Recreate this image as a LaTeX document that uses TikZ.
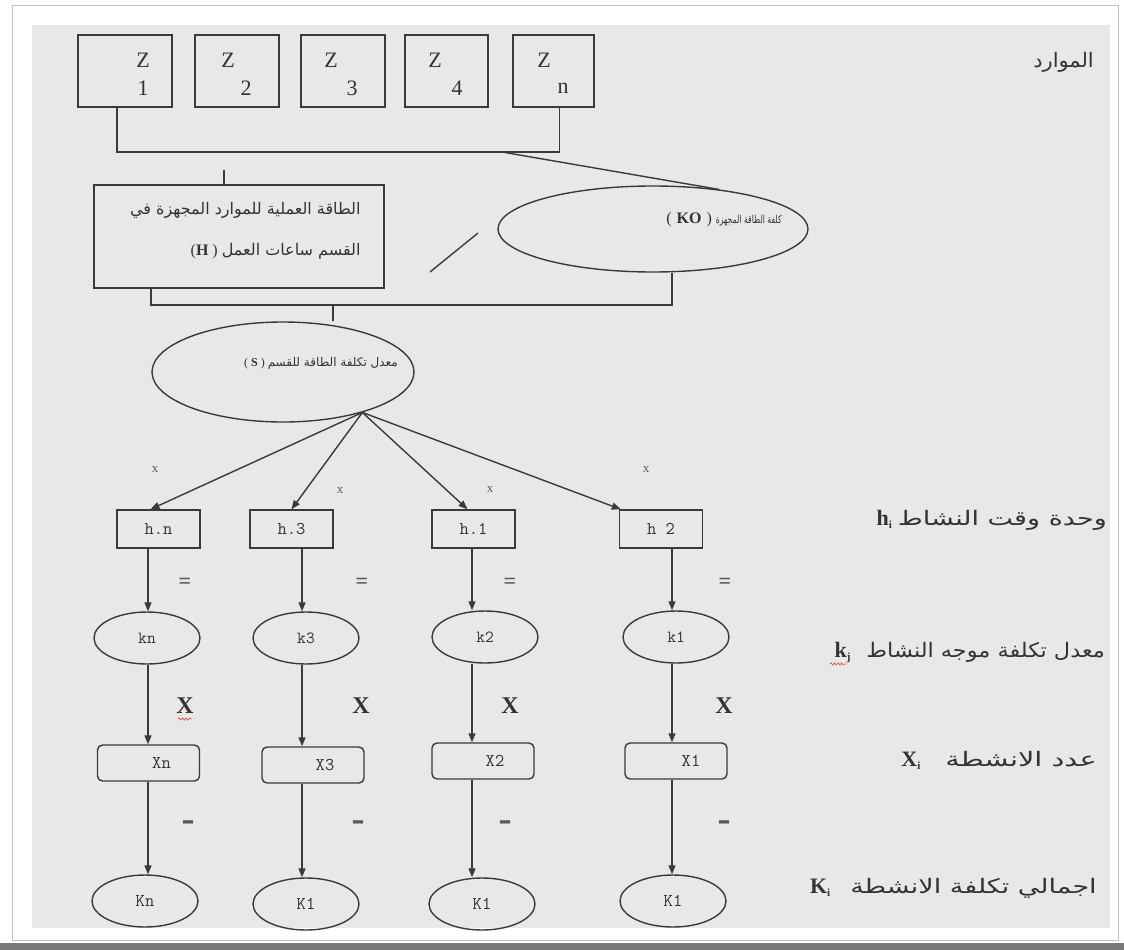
\documentclass[tikz,border=0pt]{standalone}
\usepackage{fontspec}
\usepackage{graphicx}
\setmainfont{Liberation Serif}
\newfontfamily\arabicfont[Script=Arabic]{DejaVu Sans}
\newfontfamily\barfont{DejaVu Sans}
\TeXXeTstate=1
\usetikzlibrary{arrows.meta,shapes.geometric,decorations.pathmorphing,calc}

\definecolor{panel}{HTML}{E8E8E8}
\definecolor{ink}{HTML}{3A3A3A}
\definecolor{txt}{HTML}{333333}
\definecolor{soft}{HTML}{5A5A5A}
\definecolor{frameline}{HTML}{BDBDBD}
\definecolor{shadow}{HTML}{7A7A7A}

% bold symbol with a lowered index
\newcommand{\sym}[2]{\textbf{#1}\raisebox{-3pt}{\fontsize{11}{11}\selectfont\bfseries #2}}

\tikzset{
  line/.style={draw=ink, line width=1.4pt},
  arr/.style={line, -{Triangle[length=9pt,width=7pt]}},
  zbox/.style={line, rectangle, inner sep=0pt, minimum height=72pt},
  ztxt/.style={font=\fontsize{22}{22}\selectfont, text=txt, inner sep=0pt},
  hbox/.style={line, rectangle, minimum width=83pt, minimum height=38pt, inner sep=0pt,
    font=\ttfamily\fontsize{18}{18}\selectfont, text=txt},
  kell/.style={line, ellipse, minimum width=106pt, minimum height=52pt, inner sep=0pt,
    font=\ttfamily\fontsize{17}{17}\selectfont, text=txt},
  xbox/.style={line, rectangle, rounded corners=5pt, minimum width=102pt, minimum height=36pt,
    inner sep=0pt, font=\ttfamily\fontsize{18}{18}\selectfont, text=txt},
  bigell/.style={line, ellipse, inner sep=0pt},
  intext/.style={inner sep=0pt, text=txt, font=\fontsize{12}{12}\selectfont},
  opx/.style={font=\fontsize{13}{13}\selectfont, text=soft, inner sep=0pt},
  opeq/.style={font=\bfseries\fontsize{22}{22}\selectfont, text=soft, inner sep=0pt},
  opX/.style={font=\bfseries\fontsize{24}{24}\selectfont, text=txt, inner sep=0pt},
  opminus/.style={font=\barfont\bfseries\fontsize{26}{26}\selectfont, text=soft, inner sep=0pt},
  rowlabel/.style={anchor=east, inner sep=0pt, text=txt, font=\fontsize{20}{20}\selectfont},
  squiggle/.style={draw=red!75, line width=0.6pt, decorate,
    decoration={snake, amplitude=1.2pt, segment length=3.5pt}},
}

\begin{document}
\begin{tikzpicture}[x=1pt, y=-1pt]
  % page and panel
  \useasboundingbox (0,0) rectangle (1124,950);
  \fill[white] (0,0) rectangle (1124,950);
  \draw[frameline, line width=1pt] (12,6) rectangle (1118,940);
  \fill[panel] (32,25) rectangle (1110,928);
  \fill[shadow] (0,943) rectangle (1124,950);

  % resources Z
  \node[zbox, minimum width=94pt,
    label={[ztxt, xshift=18pt, yshift=11pt]center:Z},
    label={[ztxt, xshift=18pt, yshift=-17pt]center:1}] (z1) at (125,71) {};
  \node[zbox, minimum width=84pt,
    label={[ztxt, xshift=-9pt, yshift=11pt]center:Z},
    label={[ztxt, xshift=9pt, yshift=-17pt]center:2}] (z2) at (237,71) {};
  \node[zbox, minimum width=84pt,
    label={[ztxt, xshift=-12pt, yshift=11pt]center:Z},
    label={[ztxt, xshift=9pt, yshift=-17pt]center:3}] (z3) at (343,71) {};
  \node[zbox, minimum width=83pt,
    label={[ztxt, xshift=-11.5pt, yshift=11pt]center:Z},
    label={[ztxt, xshift=10.5pt, yshift=-17pt]center:4}] (z4) at (446.5,71) {};
  \node[zbox, minimum width=81pt,
    label={[ztxt, xshift=-9.5pt, yshift=11pt]center:Z},
    label={[ztxt, xshift=9.5pt, yshift=-17pt]center:n}] (zn) at (553.5,71) {};

  % capacity box and cost ellipse
  \node[line, rectangle, minimum width=290pt, minimum height=103pt, inner sep=0pt,
    label={[intext, font=\fontsize{16}{16}\selectfont, anchor=east, align=right, xshift=-24pt, yshift=6pt]east:{%
      {\arabicfont\beginR الطاقة العملية للموارد المجهزة في\endR}\\[24pt]
      (\textbf{H} ) {\arabicfont\beginR القسم ساعات العمل\endR}}}] (H) at (239,236.5) {};
  \node[bigell, minimum width=310pt, minimum height=86pt,
    label={[intext, xshift=71pt, yshift=9pt]center:{{\fontsize{16}{16}\selectfont(\hspace{5pt}\textbf{KO}\hspace{5pt})}\hspace{4pt}%
      {\fontsize{11}{11}\selectfont\scalebox{0.7}[1]{\arabicfont\beginR كلفة الطاقة المجهزة\endR}}}}]
    (KO) at (653,229) {};
  \draw[line] (430,272) -- (478,233);

  % rate ellipse
  \node[bigell, minimum width=262pt, minimum height=100pt,
    label={[intext, xshift=38pt, yshift=9pt]center:{( \textbf{S} ) {\arabicfont\beginR معدل تكلفة الطاقة للقسم\endR}}}]
    (S) at (283,372) {};

  % joins
  \coordinate (zfork) at (502,152);
  \coordinate (htick) at (224,170);
  \coordinate (sfork) at (333,305);
  \coordinate (apex) at (S.-27);
  \draw[line] ([xshift=-8pt]z1.south) |- (zfork) -| ([xshift=6pt]zn.south);
  \draw[line] (zfork) -- (KO.31);
  \draw[line] (htick) -- (H.north -| htick);
  \draw[line] ([xshift=-88pt]H.south) |- (sfork) -| ([xshift=19pt]KO.south);
  \draw[line] (sfork) -- (S.north -| sfork);

  % columns
  \coordinate (c1) at (148,0);
  \coordinate (c2) at (302,0);
  \coordinate (c3) at (472,0);
  \coordinate (c4) at (672,0);

  % activity time units
  \node[hbox] (hn) at (158.5,529) {h.n};
  \node[hbox] (h3) at (291.5,529) {h.3};
  \node[hbox] (h1) at (473.5,529) {h.1};
  \node[hbox] (h2) at (661,529) {h 2};
  \draw[arr] (apex) -- ([xshift=-8pt]hn.north);
  \draw[arr] (apex) -- (h3.north);
  \draw[arr] (apex) -- ([xshift=-6pt]h1.north);
  \draw[arr] (apex) -- ([xshift=2pt]h2.north west);

  % driver rates
  \node[kell] (kn) at (147,638) {kn};
  \node[kell] (k3) at (306,638) {k3};
  \node[kell] (k2) at (485,637) {k2};
  \node[kell] (k1) at (676,637) {k1};

  % activity counts
  \node[xbox] (xn) at (148.5,763) {\hspace*{26pt}Xn};
  \node[xbox] (x3) at (313,765) {\hspace*{24pt}X3};
  \node[xbox] (x2) at (483,761) {\hspace*{24pt}X2};
  \node[xbox] (x1) at (676,761) {\hspace*{30pt}X1};

  % total costs
  \node[kell, font=\ttfamily\fontsize{18}{18}\selectfont] (Kn) at (145,901) {Kn};
  \node[kell, font=\ttfamily\fontsize{18}{18}\selectfont] (Ka) at (306,904) {K1};
  \node[kell, font=\ttfamily\fontsize{18}{18}\selectfont] (Kb) at (482,904) {K1};
  \node[kell, font=\ttfamily\fontsize{18}{18}\selectfont] (Kc) at (673,901) {K1};

  % vertical flows
  \draw[arr] (hn.south -| c1) -- (kn.north -| c1);
  \draw[arr] (h3.south -| c2) -- (k3.north -| c2);
  \draw[arr] (h1.south -| c3) -- (k2.north -| c3);
  \draw[arr] (h2.south -| c4) -- (k1.north -| c4);
  \draw[arr] (kn.south -| c1) -- (xn.north -| c1);
  \draw[arr] (k3.south -| c2) -- (x3.north -| c2);
  \draw[arr] (k2.south -| c3) -- (x2.north -| c3);
  \draw[arr] (k1.south -| c4) -- (x1.north -| c4);
  \draw[arr] (xn.south -| c1) -- (Kn.north -| c1);
  \draw[arr] (x3.south -| c2) -- (Ka.north -| c2);
  \draw[arr] (x2.south -| c3) -- (Kb.north -| c3);
  \draw[arr] (x1.south -| c4) -- (Kc.north -| c4);

  % operators between rows
  \node[opx] (ox1) at (155,470) {x};
  \node[opx] (ox2) at (340,491) {x};
  \node[opx] (ox3) at (490,490) {x};
  \node[opx] (ox4) at (646,470) {x};
  \node[opeq] (oe1) at (185,583) {=};
  \node[opeq] (oe2) at (362,583) {=};
  \node[opeq] (oe3) at (510,583) {=};
  \node[opeq] (oe4) at (725,583) {=};
  \node[opX] (om1) at (185,706) {X};
  \node[opX] (om2) at (361,706) {X};
  \node[opX] (om3) at (510,706) {X};
  \node[opX] (om4) at (724,706) {X};
  \node[opminus] (od1) at (188,825) {–};
  \node[opminus] (od2) at (358,825) {–};
  \node[opminus] (od3) at (505,825) {–};
  \node[opminus] (od4) at (724,825) {–};

  % row captions
  \node[rowlabel] (lz) at (1094,62) {\scalebox{1.05}[1]{\arabicfont\beginR الموارد\endR}};
  \node[rowlabel] (lh) at (1107,520) {\fontsize{22}{22}\selectfont\sym{h}{i}\hspace{6pt}%
    \fontsize{20}{20}\selectfont\scalebox{1.35}[1]{\arabicfont\beginR وحدة وقت النشاط\endR}};
  \node[rowlabel] (lk) at (1105,653) {\fontsize{22}{22}\selectfont\sym{k}{j}\hspace{16pt}%
    \fontsize{20}{20}\selectfont\scalebox{1.12}[1]{\arabicfont\beginR معدل تكلفة موجه النشاط\endR}};
  \node[rowlabel] (lx) at (1097,760) {\fontsize{22}{22}\selectfont\sym{X}{i}\hspace{25pt}%
    \fontsize{20}{20}\selectfont\scalebox{1.44}[1]{\arabicfont\beginR عدد الانشطة\endR}};
  \node[rowlabel] (lk2) at (1097,888) {\fontsize{22}{22}\selectfont\sym{K}{i}\hspace{20pt}%
    \fontsize{20}{20}\selectfont\scalebox{1.35}[1]{\arabicfont\beginR اجمالي تكلفة الانشطة\endR}};

  % spelling marks
  \draw[squiggle] (178,719) -- (192,719);
  \draw[squiggle] (830,664) -- (846,664);
\end{tikzpicture}
\end{document}
